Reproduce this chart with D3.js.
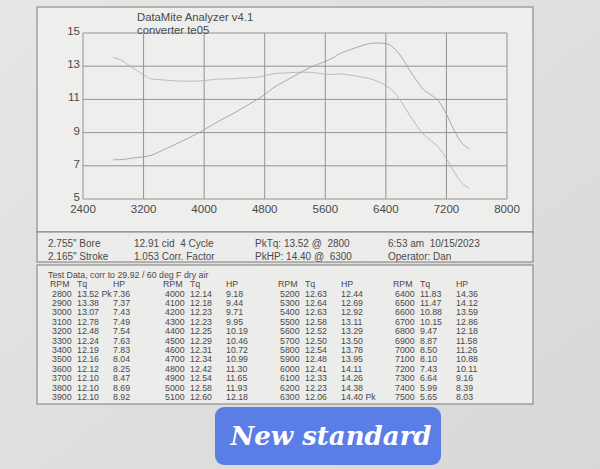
<!DOCTYPE html>
<html><head><meta charset="utf-8">
<script src="https://cdn.jsdelivr.net/npm/d3@7"></script>
<style>html,body{margin:0;padding:0;background:#e2e2e0;}svg{display:block;}</style>
</head><body>
<script>
// ---- data ----
const rpm = [2800,2900,3000,3100,3200,3300,3400,3500,3600,3700,3800,3900,
             4000,4100,4200,4300,4400,4500,4600,4700,4800,4900,5000,5100,
             5200,5300,5400,5500,5600,5700,5800,5900,6000,6100,6200,6300,
             6400,6500,6600,6700,6800,6900,7000,7100,7200,7300,7400,7500];
const torque = [13.52,13.38,13.07,12.78,12.48,12.24,12.19,12.16,12.12,12.10,12.10,12.10,
                12.14,12.18,12.23,12.23,12.25,12.29,12.31,12.34,12.42,12.54,12.58,12.60,
                12.63,12.64,12.63,12.58,12.52,12.50,12.54,12.48,12.41,12.33,12.23,12.06,
                11.83,11.47,10.88,10.15,9.47,8.87,8.50,8.10,7.43,6.64,5.99,5.65];
const hp = [7.36,7.37,7.43,7.49,7.54,7.63,7.83,8.04,8.25,8.47,8.69,8.92,
            9.18,9.44,9.71,9.95,10.19,10.46,10.72,10.99,11.30,11.65,11.93,12.18,
            12.44,12.69,12.92,13.11,13.29,13.50,13.78,13.95,14.11,14.26,14.38,14.40,
            14.36,14.12,13.59,12.86,12.18,11.58,11.26,10.88,10.11,9.16,8.39,8.03];
const xTicks = [2400,3200,4000,4800,5600,6400,7200,8000];
const yTicks = [5,7,9,11,13,15];
const titleLines = ["DataMite Analyzer v4.1","converter te05"];
const infoCols = [
  ["2.755\" Bore","2.165\" Stroke"],
  ["12.91 cid  4 Cycle","1.053 Corr. Factor"],
  ["PkTq: 13.52 @  2800","PkHP: 14.40 @  6300"],
  ["6:53 am  10/15/2023","Operator: Dan"]
];
const tableTitle = "Test Data, corr to 29.92 / 60 deg F dry air";
const tableHeaders = ["RPM","Tq","HP"];
const peakTqRpm = 2800, peakHpRpm = 6300;
const badgeText = "New standard";

// ---- drawing ----
const W=600,H=469;
const svg=d3.select("body").append("svg").attr("width",W).attr("height",H);
const defs=svg.append("defs");
const bg=defs.append("linearGradient").attr("id","bg").attr("x1","0").attr("x2","1").attr("y1","0").attr("y2","1");
bg.append("stop").attr("offset","0").attr("stop-color","#e6e6e4");
bg.append("stop").attr("offset","1").attr("stop-color","#d8d8d6");
svg.append("rect").attr("width",W).attr("height",H).attr("fill","url(#bg)");

const boxL=37, boxR=533;
const ink="#4a4a4a", frame="#7c7c7c";
svg.append("rect").attr("x",boxL).attr("y",7).attr("width",boxR-boxL).attr("height",225)
  .attr("fill","#eeeeec").attr("stroke",frame).attr("stroke-width",1);
svg.append("rect").attr("x",boxL).attr("y",232).attr("width",boxR-boxL).attr("height",30)
  .attr("fill","#ececea").attr("stroke",frame).attr("stroke-width",1);
svg.append("rect").attr("x",boxL).attr("y",265).attr("width",boxR-boxL).attr("height",139)
  .attr("fill","#ececea").attr("stroke",frame).attr("stroke-width",1);

const x=d3.scaleLinear().domain([2400,8000]).range([83,507]);
const y=d3.scaleLinear().domain([5,15]).range([199,33]);

const grid=svg.append("g");
grid.selectAll("line.v").data(xTicks).join("line")
  .attr("x1",d=>x(d)).attr("x2",d=>x(d)).attr("y1",y(15)).attr("y2",y(5))
  .attr("stroke","#939393").attr("stroke-width",1);
grid.selectAll("line.h").data(yTicks).join("line")
  .attr("x1",x(2400)).attr("x2",x(8000)).attr("y1",d=>y(d)).attr("y2",d=>y(d))
  .attr("stroke","#939393").attr("stroke-width",1);

const tickFont="'Liberation Sans', Arial, sans-serif";
svg.append("g").selectAll("text").data(xTicks).join("text")
  .attr("x",d=>x(d)).attr("y",213).attr("text-anchor","middle")
  .attr("font-family",tickFont).attr("font-size",11.5).attr("fill",ink).text(d=>d);
svg.append("g").selectAll("text").data(yTicks).join("text")
  .attr("x",80).attr("y",d=>y(d)+2).attr("text-anchor","end")
  .attr("font-family",tickFont).attr("font-size",11.5).attr("fill",ink).text(d=>d);

svg.append("g").selectAll("text").data(titleLines).join("text")
  .attr("x",137).attr("y",(d,i)=>21+i*12.5)
  .attr("font-family",tickFont).attr("font-size",11.3).attr("fill",ink).text(d=>d);

const line=(vals)=>d3.line().x((d,i)=>x(rpm[i])).y(d=>y(d)).curve(d3.curveMonotoneX)(vals);
svg.append("path").attr("d",line(torque)).attr("fill","none").attr("stroke","#b4b4b4").attr("stroke-width",0.9);
svg.append("path").attr("d",line(hp)).attr("fill","none").attr("stroke","#a0a0a0").attr("stroke-width",0.9);

const infoX=[48,134,255,388];
infoCols.forEach((col,ci)=>{
  col.forEach((t,ri)=>{
    svg.append("text").attr("x",infoX[ci]).attr("y",247+ri*13)
      .attr("font-family",tickFont).attr("font-size",10).attr("fill",ink)
      .style("white-space","pre").attr("xml:space","preserve").text(t);
  });
});

const tf=8.8;
svg.append("text").attr("x",48).attr("y",277.5).attr("font-family",tickFont).attr("font-size",tf).attr("fill",ink).text(tableTitle);
const groupX=[50,163,278,393];
const rowsPer=12;
groupX.forEach((gx,g)=>{
  const colX=[gx,gx+27,gx+63];
  tableHeaders.forEach((h,k)=>{
    svg.append("text").attr("x",colX[k]).attr("y",287).attr("font-family",tickFont).attr("font-size",tf).attr("fill",ink).text(h);
  });
  for(let r=0;r<rowsPer;r++){
    const i=g*rowsPer+r;
    const cells=[
      String(rpm[i]),
      torque[i].toFixed(2)+(rpm[i]===peakTqRpm?" Pk":""),
      hp[i].toFixed(2)+(rpm[i]===peakHpRpm?" Pk":"")
    ];
    cells.forEach((c,k)=>{
      svg.append("text").attr("x",colX[k]+(k===0?2:0)).attr("y",296.5+r*9.4)
        .attr("font-family",tickFont).attr("font-size",tf).attr("fill",ink).text(c);
    });
  }
});

svg.append("rect").attr("x",215).attr("y",407).attr("width",226).attr("height",58).attr("rx",9)
  .attr("fill","#5a7de6");
svg.append("text").attr("x",331).attr("y",445).attr("text-anchor","middle")
  .attr("font-family","'DejaVu Serif', serif").attr("font-weight","bold").attr("font-style","italic")
  .attr("font-size",26).attr("fill","#ffffff").text(badgeText);
</script>
</body></html>
